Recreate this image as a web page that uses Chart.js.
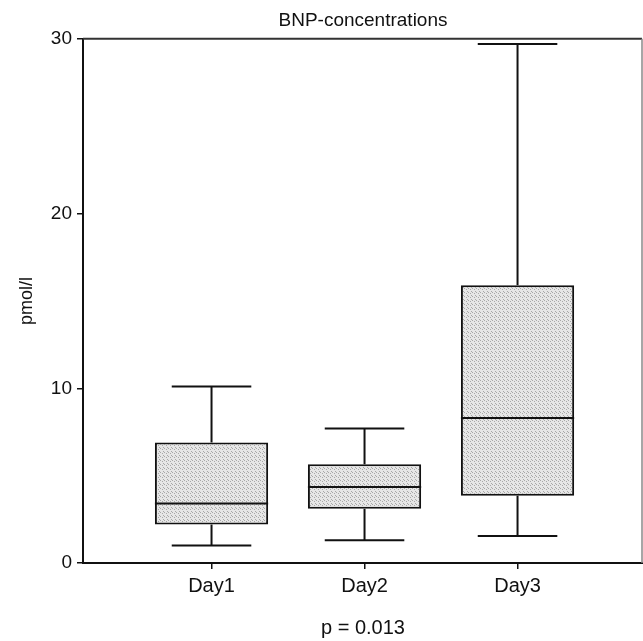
<!DOCTYPE html>
<html>
<head>
<meta charset="utf-8">
<title>BNP-concentrations</title>
<script src="https://cdn.jsdelivr.net/npm/chart.js@4.4.1/dist/chart.umd.min.js"></script>
<style>
  html, body { margin: 0; padding: 0; background: #fff; }
  canvas { display: block; }
</style>
</head>
<body>
<canvas id="bnpChart" width="643" height="641"></canvas>
<script>
// Box plot values (pmol/l)
const days = ["Day1", "Day2", "Day3"];
const mins = [1.0, 1.3, 1.55];
const q1s = [2.2, 3.1, 3.85];
const medians = [3.4, 4.35, 8.3];
const q3s = [6.9, 5.65, 15.9];
const maxs = [10.1, 7.7, 29.7];
const yTicks = [0, 10, 20, 30];
const pValue = "p = 0.013";

const FONT = "'Liberation Sans', Arial, Helvetica, sans-serif";
const CAP_HALF = 0.26; // whisker cap half width, in x units

// light stippled fill like the printed boxes
function stipple() {
  const c = document.createElement("canvas");
  c.width = 4; c.height = 4;
  const g = c.getContext("2d");
  g.fillStyle = "#e6e6e6";
  g.fillRect(0, 0, 4, 4);
  g.fillStyle = "#a8a8a8";
  [[0, 0], [2, 1], [3, 3]].forEach(p => g.fillRect(p[0], p[1], 1, 1));
  return g.createPattern(c, "repeat");
}

// medians, whiskers and caps, placed through the chart scales
const boxLines = {
  id: "boxLines",
  afterDatasetsDraw(chart) {
    const { ctx, scales: { x, y } } = chart;
    const meta = chart.getDatasetMeta(0);
    const line = (x1, y1, x2, y2) => {
      ctx.beginPath();
      ctx.moveTo(x1, y1);
      ctx.lineTo(x2, y2);
      ctx.stroke();
    };
    ctx.save();
    ctx.strokeStyle = "#111";
    ctx.lineWidth = 2;
    days.forEach((d, i) => {
      const bar = meta.data[i];
      const cx = x.getPixelForValue(i + 1);
      const half = bar.width / 2;
      line(cx - half, y.getPixelForValue(medians[i]), cx + half, y.getPixelForValue(medians[i]));
      line(cx, y.getPixelForValue(q3s[i]), cx, y.getPixelForValue(maxs[i]));
      line(cx, y.getPixelForValue(q1s[i]), cx, y.getPixelForValue(mins[i]));
      const l = x.getPixelForValue(i + 1 - CAP_HALF);
      const r = x.getPixelForValue(i + 1 + CAP_HALF);
      line(l, y.getPixelForValue(maxs[i]), r, y.getPixelForValue(maxs[i]));
      line(l, y.getPixelForValue(mins[i]), r, y.getPixelForValue(mins[i]));
    });
    ctx.restore();
  }
};

// top and right edges of the plot frame
const frame = {
  id: "frame",
  afterDraw(chart) {
    const { ctx, chartArea: a } = chart;
    ctx.save();
    ctx.strokeStyle = "#333";
    ctx.lineWidth = 2;
    ctx.beginPath();
    ctx.moveTo(a.left, a.top);
    ctx.lineTo(a.right - 1, a.top);
    ctx.stroke();
    ctx.strokeStyle = "#888";
    ctx.lineWidth = 1.5;
    ctx.beginPath();
    ctx.moveTo(a.right - 1, a.top);
    ctx.lineTo(a.right - 1, a.bottom);
    ctx.stroke();
    ctx.restore();
  }
};

new Chart(document.getElementById("bnpChart"), {
  type: "bar",
  data: {
    datasets: [{
      label: "BNP",
      data: days.map((d, i) => ({ x: i + 1, y: [q1s[i], q3s[i]] })),
      backgroundColor: stipple(),
      borderColor: "#111",
      borderWidth: 2,
      borderSkipped: false,
      categoryPercentage: 1,
      barPercentage: 0.74
    }]
  },
  options: {
    responsive: false,
    animation: false,
    layout: { padding: 0 },
    plugins: {
      legend: { display: false },
      tooltip: { enabled: false },
      title: {
        display: true,
        text: "BNP-concentrations",
        fullSize: false,
        color: "#111",
        font: { family: FONT, size: 19, weight: "normal" },
        padding: { top: 9, bottom: 7 }
      }
    },
    scales: {
      x: {
        type: "linear",
        min: 0.16,
        max: 3.82,
        offset: false,
        afterBuildTicks: s => { s.ticks = days.map((d, i) => ({ value: i + 1 })); },
        afterFit: s => { s.height = 78; },
        ticks: {
          callback: v => days[v - 1],
          color: "#111",
          padding: 5,
          maxRotation: 0,
          font: { family: FONT, size: 20 }
        },
        grid: { display: true, offset: false, drawOnChartArea: false, drawTicks: true, tickLength: 6, color: "#111", lineWidth: 1.5 },
        border: { display: true, color: "#111", width: 2 },
        title: {
          display: true,
          text: pValue,
          color: "#111",
          font: { family: FONT, size: 20 },
          padding: { top: 0, bottom: 1 }
        }
      },
      y: {
        min: yTicks[0],
        max: yTicks[yTicks.length - 1],
        afterBuildTicks: s => { s.ticks = yTicks.map(v => ({ value: v })); },
        afterFit: s => { s.width = 83; },
        ticks: {
          color: "#111",
          padding: 5,
          font: { family: FONT, size: 19 }
        },
        grid: { display: true, drawOnChartArea: false, drawTicks: true, tickLength: 6, color: "#111", lineWidth: 1.5 },
        border: { display: true, color: "#111", width: 2 },
        title: {
          display: true,
          text: "pmol/l",
          color: "#111",
          font: { family: FONT, size: 18 },
          padding: { top: 16, bottom: 0 }
        }
      }
    }
  },
  plugins: [boxLines, frame]
});
</script>
</body>
</html>
